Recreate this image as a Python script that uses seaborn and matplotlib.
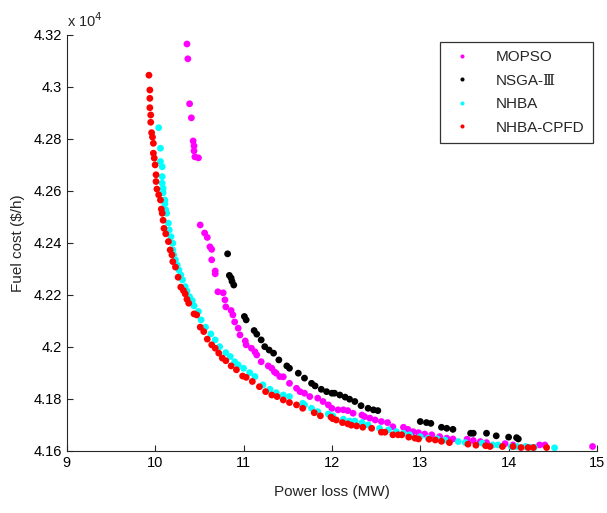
import numpy as np
import pandas as pd
import matplotlib
matplotlib.use("Agg")
import matplotlib.pyplot as plt
import seaborn as sns

# ---------------- data ----------------
series_names = ["MOPSO", "NSGA-Ⅲ", "NHBA", "NHBA-CPFD"]

mopso_loss = [10.36, 10.37, 10.39, 10.41, 10.43, 10.44, 10.44, 10.45, 10.49, 10.51,
              10.56, 10.59, 10.62, 10.64, 10.64, 10.68, 10.68, 10.71, 10.77, 10.79,
              10.80, 10.86, 10.88, 10.90, 10.94, 10.96, 11.02, 11.03, 11.09, 11.13,
              11.15, 11.20, 11.28, 11.32, 11.35, 11.37, 11.41, 11.45, 11.52, 11.60,
              11.64, 11.69, 11.75, 11.84, 11.90, 11.96, 12.00, 12.07, 12.13, 12.18,
              12.24, 12.34, 12.37, 12.43, 12.49, 12.56, 12.63, 12.69, 12.81, 12.86,
              12.92, 12.98, 13.05, 13.13, 13.22, 13.30, 13.37, 13.53, 13.60, 13.68,
              13.75, 13.96, 14.05, 14.35, 14.41, 14.95]
mopso_cost = [43165, 43108, 42935, 42881, 42792, 42773, 42754, 42731, 42727, 42469,
              42438, 42421, 42385, 42375, 42335, 42292, 42281, 42212, 42208, 42181,
              42154, 42140, 42123, 42096, 42072, 42046, 42023, 42008, 41995, 41981,
              41969, 41943, 41927, 41918, 41904, 41899, 41886, 41885, 41860, 41841,
              41828, 41822, 41809, 41803, 41790, 41777, 41764, 41758, 41758, 41755,
              41745, 41738, 41732, 41726, 41719, 41713, 41709, 41693, 41691, 41683,
              41674, 41670, 41665, 41662, 41655, 41649, 41646, 41645, 41640, 41636,
              41632, 41628, 41623, 41623, 41623, 41617]

nsga_loss = [10.82, 10.84, 10.86, 10.87, 10.89, 11.01, 11.03, 11.12, 11.15, 11.20,
             11.24, 11.29, 11.34, 11.40, 11.49, 11.52, 11.62, 11.69, 11.77, 11.81,
             11.88, 11.94, 12.00, 12.03, 12.09, 12.15, 12.20, 12.26, 12.33, 12.41,
             12.47, 12.52, 13.00, 13.07, 13.12, 13.24, 13.30, 13.37, 13.57, 13.60,
             13.75, 13.86, 14.00, 14.09, 14.11]
nsga_cost = [42358, 42275, 42265, 42252, 42238, 42117, 42104, 42063, 42049, 42027,
             42001, 41988, 41976, 41950, 41927, 41918, 41899, 41880, 41860, 41850,
             41837, 41828, 41822, 41822, 41815, 41807, 41799, 41790, 41774, 41764,
             41758, 41755, 41713, 41709, 41706, 41691, 41687, 41683, 41668, 41668,
             41668, 41658, 41653, 41651, 41646]

nhba_loss = [10.04, 10.06, 10.06, 10.08, 10.08, 10.08, 10.09, 10.09, 10.11, 10.11,
             10.12, 10.13, 10.15, 10.16, 10.18, 10.20, 10.20, 10.21, 10.23, 10.25,
             10.27, 10.29, 10.31, 10.34, 10.36, 10.39, 10.42, 10.44, 10.49, 10.52,
             10.57, 10.63, 10.68, 10.73, 10.80, 10.85, 10.90, 10.94, 11.00, 11.07,
             11.13, 11.22, 11.30, 11.37, 11.45, 11.52, 11.67, 11.69, 11.77, 11.84,
             11.96, 12.01, 12.13, 12.20, 12.26, 12.34, 12.41, 12.54, 12.64, 12.73,
             12.81, 12.88, 13.00, 13.09, 13.19, 13.28, 13.43, 13.51, 13.70, 13.82,
             13.88, 14.03, 14.09, 14.19, 14.24, 14.29, 14.52]
nhba_cost = [42843, 42764, 42713, 42693, 42655, 42630, 42610, 42593, 42565, 42550,
             42527, 42514, 42476, 42450, 42424, 42399, 42373, 42354, 42335, 42315,
             42296, 42277, 42258, 42232, 42215, 42193, 42178, 42158, 42136, 42104,
             42076, 42050, 42027, 42001, 41978, 41963, 41943, 41931, 41918, 41901,
             41886, 41854, 41837, 41824, 41815, 41809, 41783, 41777, 41764, 41751,
             41742, 41735, 41722, 41715, 41715, 41709, 41700, 41687, 41681, 41674,
             41668, 41662, 41655, 41649, 41647, 41642, 41636, 41632, 41630, 41623,
             41623, 41617, 41617, 41617, 41614, 41614, 41612]

cpfd_loss = [9.93, 9.94, 9.94, 9.94, 9.95, 9.95, 9.96, 9.97, 9.98, 9.98,
             9.99, 10.00, 10.01, 10.01, 10.02, 10.04, 10.06, 10.07, 10.08, 10.09,
             10.10, 10.12, 10.15, 10.17, 10.19, 10.20, 10.23, 10.26, 10.29, 10.32,
             10.34, 10.36, 10.38, 10.44, 10.47, 10.51, 10.55, 10.59, 10.64, 10.68,
             10.72, 10.76, 10.80, 10.86, 10.92, 10.99, 11.03, 11.10, 11.18, 11.25,
             11.32, 11.38, 11.45, 11.52, 11.60, 11.67, 11.80, 11.87, 11.99, 12.01,
             12.05, 12.12, 12.18, 12.22, 12.28, 12.35, 12.45, 12.56, 12.60, 12.69,
             12.75, 12.79, 12.87, 12.94, 12.98, 13.10, 13.17, 13.24, 13.33, 13.54,
             13.63, 13.74, 13.79, 13.93, 14.05, 14.14, 14.22, 14.28, 14.43]
cpfd_cost = [43045, 42988, 42956, 42920, 42892, 42864, 42824, 42807, 42783, 42745,
             42726, 42700, 42662, 42636, 42607, 42585, 42565, 42530, 42514, 42487,
             42456, 42435, 42405, 42373, 42354, 42328, 42307, 42268, 42230, 42217,
             42204, 42183, 42168, 42127, 42123, 42076, 42059, 42030, 42008, 41995,
             41976, 41957, 41947, 41927, 41912, 41888, 41883, 41867, 41847, 41828,
             41815, 41809, 41796, 41786, 41777, 41764, 41747, 41735, 41730, 41724,
             41719, 41709, 41704, 41699, 41696, 41691, 41687, 41672, 41672, 41662,
             41662, 41662, 41653, 41649, 41646, 41645, 41642, 41637, 41632, 41626,
             41622, 41620, 41617, 41617, 41617, 41613, 41613, 41613, 41613]

colors = ["#FF00FF", "#000000", "#00FFFF", "#FF0000"]

x_ticks = [9, 10, 11, 12, 13, 14, 15]
y_ticks = [41600, 41800, 42000, 42200, 42400, 42600, 42800, 43000, 43200]
y_tick_labels = ["4.16", "4.18", "4.2", "4.22", "4.24", "4.26", "4.28", "4.3", "4.32"]

# ---------------- build table ----------------
frames = []
for name, xs, ys in zip(series_names,
                        [mopso_loss, nsga_loss, nhba_loss, cpfd_loss],
                        [mopso_cost, nsga_cost, nhba_cost, cpfd_cost]):
    frames.append(pd.DataFrame({"loss": xs, "cost": ys, "alg": name}))
df = pd.concat(frames, ignore_index=True)

# ---------------- style ----------------
sns.set_theme(style="white")
plt.rcParams["font.family"] = ["Liberation Sans", "DejaVu Serif", "DejaVu Sans"]
plt.rcParams["xtick.direction"] = "in"
plt.rcParams["ytick.direction"] = "in"

fig = plt.figure(figsize=(6.07, 5.13), dpi=100)
ax = fig.add_axes([0.110, 0.121, 0.8735, 0.811])

sns.scatterplot(data=df, x="loss", y="cost", hue="alg", hue_order=series_names,
                palette=colors, s=24, linewidth=0, ax=ax, legend=True)

ax.set_xlim(9, 15)
ax.set_ylim(41600, 43200)
ax.set_xticks(x_ticks)
ax.set_xticklabels([str(t) for t in x_ticks])
ax.set_yticks(y_ticks)
ax.set_yticklabels(y_tick_labels)
ax.tick_params(axis="both", which="both", direction="in", length=4, width=0.8,
               labelsize=10.5, colors="#262626", bottom=True, left=True,
               labelcolor="black")
for side in ["top", "right"]:
    ax.spines[side].set_visible(False)
for side in ["left", "bottom"]:
    ax.spines[side].set_color("#262626")
    ax.spines[side].set_linewidth(0.8)

ax.set_xlabel("Power loss (MW)", fontsize=11, labelpad=11)
ax.set_ylabel(r"Fuel cost (\$/h)", fontsize=11, labelpad=6)

ax.text(0.0, 1.012, r"x 10$^{4}$", transform=ax.transAxes, fontsize=10.5,
        ha="left", va="bottom")

handles, labels = ax.get_legend_handles_labels()
leg = ax.legend(handles, labels, loc="upper right", bbox_to_anchor=(0.9925, 0.983),
                frameon=True, fancybox=False, edgecolor="black", fontsize=11,
                markerscale=0.6, borderpad=0.55, labelspacing=0.62,
                handletextpad=1.3, handlelength=1.8, borderaxespad=0)
leg.get_frame().set_linewidth(0.9)

fig.savefig("out.png", dpi=100)
